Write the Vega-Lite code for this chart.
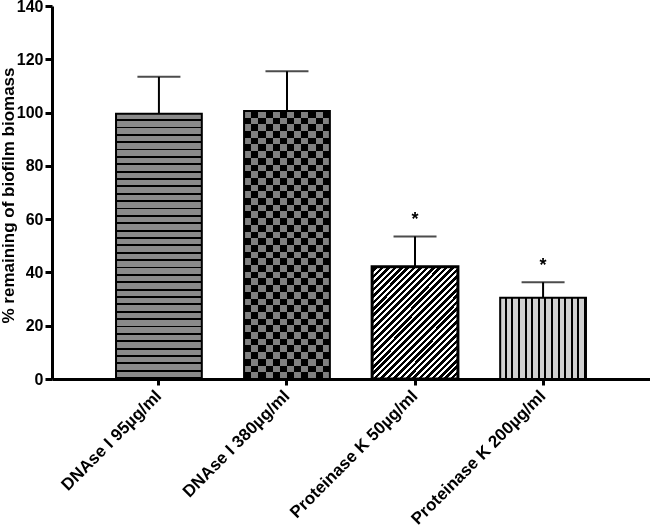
{
  "$schema": "https://vega.github.io/schema/vega-lite/v6.json",
  "width": 598,
  "height": 373,
  "autosize": {"type": "none"},
  "padding": {"left": 52, "top": 6, "right": 0, "bottom": 147},
  "background": "white",
  "config": {
    "view": {"stroke": null},
    "font": "Liberation Sans",
    "axis": {"domainColor": "black", "tickColor": "black", "labelColor": "black", "titleColor": "black", "labelFont": "Liberation Sans", "titleFont": "Liberation Sans"}
  },
  "data": {
    "values": [
      {"treatment": "DNAse I 95µg/ml", "mean": 99.6, "upper": 113.4, "sig": ""},
      {"treatment": "DNAse I 380µg/ml", "mean": 100.6, "upper": 115.5, "sig": ""},
      {"treatment": "Proteinase K 50µg/ml", "mean": 42.1, "upper": 53.5, "sig": "*"},
      {"treatment": "Proteinase K 200µg/ml", "mean": 30.5, "upper": 36.3, "sig": "*"}
    ]
  },
  "encoding": {
    "x": {
      "field": "treatment", "type": "nominal",
      "scale": {"domain": ["DNAse I 95µg/ml", "DNAse I 380µg/ml", "Proteinase K 50µg/ml", "Proteinase K 200µg/ml"], "paddingInner": 0.33, "paddingOuter": 0.5},
      "axis": {"title": null, "labelAngle": -45, "labelAlign": "right", "labelBaseline": "middle", "labelFontSize": 17, "labelFontWeight": "bold", "tickSize": 6, "tickWidth": 3, "domainWidth": 3, "labelPadding": 8, "labelLimit": 400, "labelOverlap": false}
    },
    "y": {
      "field": "mean", "type": "quantitative",
      "scale": {"domain": [0, 140], "nice": false, "zero": true},
      "axis": {"values": [0, 20, 40, 60, 80, 100, 120, 140], "grid": false, "labelFontSize": 16, "labelFontWeight": "bold", "tickSize": 7, "tickWidth": 3, "domainWidth": 3, "labelPadding": 2, "title": "% remaining of biofilm biomass", "titleFontSize": 17, "titleFontWeight": "bold", "titleAngle": -90, "titleAlign": "center", "titleBaseline": "alphabetic", "titleX": -39, "titleY": 189}
    }
  },
  "layer": [
    {
      "mark": {"type": "rule", "color": "black", "strokeWidth": 2},
      "encoding": {"y": {"field": "mean", "type": "quantitative"}, "y2": {"field": "upper"}}
    },
    {
      "mark": {"type": "tick", "color": "black", "size": 43, "thickness": 2},
      "encoding": {"y": {"field": "upper", "type": "quantitative"}}
    },
    {
      "transform": [{"filter": "datum.treatment === 'DNAse I 95µg/ml'"}],
      "mark": {"type": "bar", "fill": {"gradient": "linear", "x1": 0, "y1": 0, "x2": 0, "y2": 1, "stops": [
        {"offset": 0, "color": "#8a8a8a"}, {"offset": 0.0208, "color": "#8a8a8a"}, {"offset": 0.0208, "color": "#000"}, {"offset": 0.0278, "color": "#000"},
        {"offset": 0.0278, "color": "#8a8a8a"}, {"offset": 0.0486, "color": "#8a8a8a"}, {"offset": 0.0486, "color": "#000"}, {"offset": 0.0556, "color": "#000"},
        {"offset": 0.0556, "color": "#8a8a8a"}, {"offset": 0.0764, "color": "#8a8a8a"}, {"offset": 0.0764, "color": "#000"}, {"offset": 0.0833, "color": "#000"},
        {"offset": 0.0833, "color": "#8a8a8a"}, {"offset": 0.1042, "color": "#8a8a8a"}, {"offset": 0.1042, "color": "#000"}, {"offset": 0.1111, "color": "#000"},
        {"offset": 0.1111, "color": "#8a8a8a"}, {"offset": 0.1319, "color": "#8a8a8a"}, {"offset": 0.1319, "color": "#000"}, {"offset": 0.1389, "color": "#000"},
        {"offset": 0.1389, "color": "#8a8a8a"}, {"offset": 0.1597, "color": "#8a8a8a"}, {"offset": 0.1597, "color": "#000"}, {"offset": 0.1667, "color": "#000"},
        {"offset": 0.1667, "color": "#8a8a8a"}, {"offset": 0.1875, "color": "#8a8a8a"}, {"offset": 0.1875, "color": "#000"}, {"offset": 0.1944, "color": "#000"},
        {"offset": 0.1944, "color": "#8a8a8a"}, {"offset": 0.2153, "color": "#8a8a8a"}, {"offset": 0.2153, "color": "#000"}, {"offset": 0.2222, "color": "#000"},
        {"offset": 0.2222, "color": "#8a8a8a"}, {"offset": 0.2431, "color": "#8a8a8a"}, {"offset": 0.2431, "color": "#000"}, {"offset": 0.25, "color": "#000"},
        {"offset": 0.25, "color": "#8a8a8a"}, {"offset": 0.2708, "color": "#8a8a8a"}, {"offset": 0.2708, "color": "#000"}, {"offset": 0.2778, "color": "#000"},
        {"offset": 0.2778, "color": "#8a8a8a"}, {"offset": 0.2986, "color": "#8a8a8a"}, {"offset": 0.2986, "color": "#000"}, {"offset": 0.3056, "color": "#000"},
        {"offset": 0.3056, "color": "#8a8a8a"}, {"offset": 0.3264, "color": "#8a8a8a"}, {"offset": 0.3264, "color": "#000"}, {"offset": 0.3333, "color": "#000"},
        {"offset": 0.3333, "color": "#8a8a8a"}, {"offset": 0.3542, "color": "#8a8a8a"}, {"offset": 0.3542, "color": "#000"}, {"offset": 0.3611, "color": "#000"},
        {"offset": 0.3611, "color": "#8a8a8a"}, {"offset": 0.3819, "color": "#8a8a8a"}, {"offset": 0.3819, "color": "#000"}, {"offset": 0.3889, "color": "#000"},
        {"offset": 0.3889, "color": "#8a8a8a"}, {"offset": 0.4097, "color": "#8a8a8a"}, {"offset": 0.4097, "color": "#000"}, {"offset": 0.4167, "color": "#000"},
        {"offset": 0.4167, "color": "#8a8a8a"}, {"offset": 0.4375, "color": "#8a8a8a"}, {"offset": 0.4375, "color": "#000"}, {"offset": 0.4444, "color": "#000"},
        {"offset": 0.4444, "color": "#8a8a8a"}, {"offset": 0.4653, "color": "#8a8a8a"}, {"offset": 0.4653, "color": "#000"}, {"offset": 0.4722, "color": "#000"},
        {"offset": 0.4722, "color": "#8a8a8a"}, {"offset": 0.4931, "color": "#8a8a8a"}, {"offset": 0.4931, "color": "#000"}, {"offset": 0.5, "color": "#000"},
        {"offset": 0.5, "color": "#8a8a8a"}, {"offset": 0.5208, "color": "#8a8a8a"}, {"offset": 0.5208, "color": "#000"}, {"offset": 0.5278, "color": "#000"},
        {"offset": 0.5278, "color": "#8a8a8a"}, {"offset": 0.5486, "color": "#8a8a8a"}, {"offset": 0.5486, "color": "#000"}, {"offset": 0.5556, "color": "#000"},
        {"offset": 0.5556, "color": "#8a8a8a"}, {"offset": 0.5764, "color": "#8a8a8a"}, {"offset": 0.5764, "color": "#000"}, {"offset": 0.5833, "color": "#000"},
        {"offset": 0.5833, "color": "#8a8a8a"}, {"offset": 0.6042, "color": "#8a8a8a"}, {"offset": 0.6042, "color": "#000"}, {"offset": 0.6111, "color": "#000"},
        {"offset": 0.6111, "color": "#8a8a8a"}, {"offset": 0.6319, "color": "#8a8a8a"}, {"offset": 0.6319, "color": "#000"}, {"offset": 0.6389, "color": "#000"},
        {"offset": 0.6389, "color": "#8a8a8a"}, {"offset": 0.6597, "color": "#8a8a8a"}, {"offset": 0.6597, "color": "#000"}, {"offset": 0.6667, "color": "#000"},
        {"offset": 0.6667, "color": "#8a8a8a"}, {"offset": 0.6875, "color": "#8a8a8a"}, {"offset": 0.6875, "color": "#000"}, {"offset": 0.6944, "color": "#000"},
        {"offset": 0.6944, "color": "#8a8a8a"}, {"offset": 0.7153, "color": "#8a8a8a"}, {"offset": 0.7153, "color": "#000"}, {"offset": 0.7222, "color": "#000"},
        {"offset": 0.7222, "color": "#8a8a8a"}, {"offset": 0.7431, "color": "#8a8a8a"}, {"offset": 0.7431, "color": "#000"}, {"offset": 0.75, "color": "#000"},
        {"offset": 0.75, "color": "#8a8a8a"}, {"offset": 0.7708, "color": "#8a8a8a"}, {"offset": 0.7708, "color": "#000"}, {"offset": 0.7778, "color": "#000"},
        {"offset": 0.7778, "color": "#8a8a8a"}, {"offset": 0.7986, "color": "#8a8a8a"}, {"offset": 0.7986, "color": "#000"}, {"offset": 0.8056, "color": "#000"},
        {"offset": 0.8056, "color": "#8a8a8a"}, {"offset": 0.8264, "color": "#8a8a8a"}, {"offset": 0.8264, "color": "#000"}, {"offset": 0.8333, "color": "#000"},
        {"offset": 0.8333, "color": "#8a8a8a"}, {"offset": 0.8542, "color": "#8a8a8a"}, {"offset": 0.8542, "color": "#000"}, {"offset": 0.8611, "color": "#000"},
        {"offset": 0.8611, "color": "#8a8a8a"}, {"offset": 0.8819, "color": "#8a8a8a"}, {"offset": 0.8819, "color": "#000"}, {"offset": 0.8889, "color": "#000"},
        {"offset": 0.8889, "color": "#8a8a8a"}, {"offset": 0.9097, "color": "#8a8a8a"}, {"offset": 0.9097, "color": "#000"}, {"offset": 0.9167, "color": "#000"},
        {"offset": 0.9167, "color": "#8a8a8a"}, {"offset": 0.9375, "color": "#8a8a8a"}, {"offset": 0.9375, "color": "#000"}, {"offset": 0.9444, "color": "#000"},
        {"offset": 0.9444, "color": "#8a8a8a"}, {"offset": 0.9653, "color": "#8a8a8a"}, {"offset": 0.9653, "color": "#000"}, {"offset": 0.9722, "color": "#000"},
        {"offset": 0.9722, "color": "#8a8a8a"}, {"offset": 0.9931, "color": "#8a8a8a"}, {"offset": 0.9931, "color": "#000"}, {"offset": 1, "color": "#000"}
      ]}}
    },
    {
      "transform": [{"filter": "datum.treatment === 'DNAse I 380µg/ml'"}],
      "mark": {"type": "bar", "fill": {"gradient": "linear", "x1": 0, "y1": 0, "x2": 1, "y2": 0, "stops": [
        {"offset": 0, "color": "#808080"}, {"offset": 0.0833, "color": "#808080"}, {"offset": 0.0833, "color": "#000"}, {"offset": 0.1667, "color": "#000"},
        {"offset": 0.1667, "color": "#808080"}, {"offset": 0.25, "color": "#808080"}, {"offset": 0.25, "color": "#000"}, {"offset": 0.3333, "color": "#000"},
        {"offset": 0.3333, "color": "#808080"}, {"offset": 0.4167, "color": "#808080"}, {"offset": 0.4167, "color": "#000"}, {"offset": 0.5, "color": "#000"},
        {"offset": 0.5, "color": "#808080"}, {"offset": 0.5833, "color": "#808080"}, {"offset": 0.5833, "color": "#000"}, {"offset": 0.6667, "color": "#000"},
        {"offset": 0.6667, "color": "#808080"}, {"offset": 0.75, "color": "#808080"}, {"offset": 0.75, "color": "#000"}, {"offset": 0.8333, "color": "#000"},
        {"offset": 0.8333, "color": "#808080"}, {"offset": 0.9167, "color": "#808080"}, {"offset": 0.9167, "color": "#000"}, {"offset": 1, "color": "#000"}
      ]}}
    },
    {
      "transform": [{"filter": "datum.treatment === 'DNAse I 380µg/ml'"}],
      "mark": {"type": "bar", "blend": "difference", "fill": {"gradient": "linear", "x1": 0, "y1": 0, "x2": 0, "y2": 1, "stops": [
        {"offset": 0, "color": "#000"}, {"offset": 0.025, "color": "#000"}, {"offset": 0.025, "color": "#808080"}, {"offset": 0.05, "color": "#808080"},
        {"offset": 0.05, "color": "#000"}, {"offset": 0.075, "color": "#000"}, {"offset": 0.075, "color": "#808080"}, {"offset": 0.1, "color": "#808080"},
        {"offset": 0.1, "color": "#000"}, {"offset": 0.125, "color": "#000"}, {"offset": 0.125, "color": "#808080"}, {"offset": 0.15, "color": "#808080"},
        {"offset": 0.15, "color": "#000"}, {"offset": 0.175, "color": "#000"}, {"offset": 0.175, "color": "#808080"}, {"offset": 0.2, "color": "#808080"},
        {"offset": 0.2, "color": "#000"}, {"offset": 0.225, "color": "#000"}, {"offset": 0.225, "color": "#808080"}, {"offset": 0.25, "color": "#808080"},
        {"offset": 0.25, "color": "#000"}, {"offset": 0.275, "color": "#000"}, {"offset": 0.275, "color": "#808080"}, {"offset": 0.3, "color": "#808080"},
        {"offset": 0.3, "color": "#000"}, {"offset": 0.325, "color": "#000"}, {"offset": 0.325, "color": "#808080"}, {"offset": 0.35, "color": "#808080"},
        {"offset": 0.35, "color": "#000"}, {"offset": 0.375, "color": "#000"}, {"offset": 0.375, "color": "#808080"}, {"offset": 0.4, "color": "#808080"},
        {"offset": 0.4, "color": "#000"}, {"offset": 0.425, "color": "#000"}, {"offset": 0.425, "color": "#808080"}, {"offset": 0.45, "color": "#808080"},
        {"offset": 0.45, "color": "#000"}, {"offset": 0.475, "color": "#000"}, {"offset": 0.475, "color": "#808080"}, {"offset": 0.5, "color": "#808080"},
        {"offset": 0.5, "color": "#000"}, {"offset": 0.525, "color": "#000"}, {"offset": 0.525, "color": "#808080"}, {"offset": 0.55, "color": "#808080"},
        {"offset": 0.55, "color": "#000"}, {"offset": 0.575, "color": "#000"}, {"offset": 0.575, "color": "#808080"}, {"offset": 0.6, "color": "#808080"},
        {"offset": 0.6, "color": "#000"}, {"offset": 0.625, "color": "#000"}, {"offset": 0.625, "color": "#808080"}, {"offset": 0.65, "color": "#808080"},
        {"offset": 0.65, "color": "#000"}, {"offset": 0.675, "color": "#000"}, {"offset": 0.675, "color": "#808080"}, {"offset": 0.7, "color": "#808080"},
        {"offset": 0.7, "color": "#000"}, {"offset": 0.725, "color": "#000"}, {"offset": 0.725, "color": "#808080"}, {"offset": 0.75, "color": "#808080"},
        {"offset": 0.75, "color": "#000"}, {"offset": 0.775, "color": "#000"}, {"offset": 0.775, "color": "#808080"}, {"offset": 0.8, "color": "#808080"},
        {"offset": 0.8, "color": "#000"}, {"offset": 0.825, "color": "#000"}, {"offset": 0.825, "color": "#808080"}, {"offset": 0.85, "color": "#808080"},
        {"offset": 0.85, "color": "#000"}, {"offset": 0.875, "color": "#000"}, {"offset": 0.875, "color": "#808080"}, {"offset": 0.9, "color": "#808080"},
        {"offset": 0.9, "color": "#000"}, {"offset": 0.925, "color": "#000"}, {"offset": 0.925, "color": "#808080"}, {"offset": 0.95, "color": "#808080"},
        {"offset": 0.95, "color": "#000"}, {"offset": 0.975, "color": "#000"}, {"offset": 0.975, "color": "#808080"}, {"offset": 1, "color": "#808080"}
      ]}}
    },
    {
      "transform": [{"filter": "datum.treatment === 'Proteinase K 50µg/ml'"}],
      "mark": {"type": "bar", "fill": {"gradient": "linear", "x1": 0, "y1": 0, "x2": 1, "y2": 1.3, "stops": [
        {"offset": 0, "color": "#fff"}, {"offset": 0.0125, "color": "#fff"}, {"offset": 0.0125, "color": "#000"}, {"offset": 0.0278, "color": "#000"},
        {"offset": 0.0278, "color": "#fff"}, {"offset": 0.0403, "color": "#fff"}, {"offset": 0.0403, "color": "#000"}, {"offset": 0.0556, "color": "#000"},
        {"offset": 0.0556, "color": "#fff"}, {"offset": 0.0681, "color": "#fff"}, {"offset": 0.0681, "color": "#000"}, {"offset": 0.0833, "color": "#000"},
        {"offset": 0.0833, "color": "#fff"}, {"offset": 0.0958, "color": "#fff"}, {"offset": 0.0958, "color": "#000"}, {"offset": 0.1111, "color": "#000"},
        {"offset": 0.1111, "color": "#fff"}, {"offset": 0.1236, "color": "#fff"}, {"offset": 0.1236, "color": "#000"}, {"offset": 0.1389, "color": "#000"},
        {"offset": 0.1389, "color": "#fff"}, {"offset": 0.1514, "color": "#fff"}, {"offset": 0.1514, "color": "#000"}, {"offset": 0.1667, "color": "#000"},
        {"offset": 0.1667, "color": "#fff"}, {"offset": 0.1792, "color": "#fff"}, {"offset": 0.1792, "color": "#000"}, {"offset": 0.1944, "color": "#000"},
        {"offset": 0.1944, "color": "#fff"}, {"offset": 0.2069, "color": "#fff"}, {"offset": 0.2069, "color": "#000"}, {"offset": 0.2222, "color": "#000"},
        {"offset": 0.2222, "color": "#fff"}, {"offset": 0.2347, "color": "#fff"}, {"offset": 0.2347, "color": "#000"}, {"offset": 0.25, "color": "#000"},
        {"offset": 0.25, "color": "#fff"}, {"offset": 0.2625, "color": "#fff"}, {"offset": 0.2625, "color": "#000"}, {"offset": 0.2778, "color": "#000"},
        {"offset": 0.2778, "color": "#fff"}, {"offset": 0.2903, "color": "#fff"}, {"offset": 0.2903, "color": "#000"}, {"offset": 0.3056, "color": "#000"},
        {"offset": 0.3056, "color": "#fff"}, {"offset": 0.3181, "color": "#fff"}, {"offset": 0.3181, "color": "#000"}, {"offset": 0.3333, "color": "#000"},
        {"offset": 0.3333, "color": "#fff"}, {"offset": 0.3458, "color": "#fff"}, {"offset": 0.3458, "color": "#000"}, {"offset": 0.3611, "color": "#000"},
        {"offset": 0.3611, "color": "#fff"}, {"offset": 0.3736, "color": "#fff"}, {"offset": 0.3736, "color": "#000"}, {"offset": 0.3889, "color": "#000"},
        {"offset": 0.3889, "color": "#fff"}, {"offset": 0.4014, "color": "#fff"}, {"offset": 0.4014, "color": "#000"}, {"offset": 0.4167, "color": "#000"},
        {"offset": 0.4167, "color": "#fff"}, {"offset": 0.4292, "color": "#fff"}, {"offset": 0.4292, "color": "#000"}, {"offset": 0.4444, "color": "#000"},
        {"offset": 0.4444, "color": "#fff"}, {"offset": 0.4569, "color": "#fff"}, {"offset": 0.4569, "color": "#000"}, {"offset": 0.4722, "color": "#000"},
        {"offset": 0.4722, "color": "#fff"}, {"offset": 0.4847, "color": "#fff"}, {"offset": 0.4847, "color": "#000"}, {"offset": 0.5, "color": "#000"},
        {"offset": 0.5, "color": "#fff"}, {"offset": 0.5125, "color": "#fff"}, {"offset": 0.5125, "color": "#000"}, {"offset": 0.5278, "color": "#000"},
        {"offset": 0.5278, "color": "#fff"}, {"offset": 0.5403, "color": "#fff"}, {"offset": 0.5403, "color": "#000"}, {"offset": 0.5556, "color": "#000"},
        {"offset": 0.5556, "color": "#fff"}, {"offset": 0.5681, "color": "#fff"}, {"offset": 0.5681, "color": "#000"}, {"offset": 0.5833, "color": "#000"},
        {"offset": 0.5833, "color": "#fff"}, {"offset": 0.5958, "color": "#fff"}, {"offset": 0.5958, "color": "#000"}, {"offset": 0.6111, "color": "#000"},
        {"offset": 0.6111, "color": "#fff"}, {"offset": 0.6236, "color": "#fff"}, {"offset": 0.6236, "color": "#000"}, {"offset": 0.6389, "color": "#000"},
        {"offset": 0.6389, "color": "#fff"}, {"offset": 0.6514, "color": "#fff"}, {"offset": 0.6514, "color": "#000"}, {"offset": 0.6667, "color": "#000"},
        {"offset": 0.6667, "color": "#fff"}, {"offset": 0.6792, "color": "#fff"}, {"offset": 0.6792, "color": "#000"}, {"offset": 0.6944, "color": "#000"},
        {"offset": 0.6944, "color": "#fff"}, {"offset": 0.7069, "color": "#fff"}, {"offset": 0.7069, "color": "#000"}, {"offset": 0.7222, "color": "#000"},
        {"offset": 0.7222, "color": "#fff"}, {"offset": 0.7347, "color": "#fff"}, {"offset": 0.7347, "color": "#000"}, {"offset": 0.75, "color": "#000"},
        {"offset": 0.75, "color": "#fff"}, {"offset": 0.7625, "color": "#fff"}, {"offset": 0.7625, "color": "#000"}, {"offset": 0.7778, "color": "#000"},
        {"offset": 0.7778, "color": "#fff"}, {"offset": 0.7903, "color": "#fff"}, {"offset": 0.7903, "color": "#000"}, {"offset": 0.8056, "color": "#000"},
        {"offset": 0.8056, "color": "#fff"}, {"offset": 0.8181, "color": "#fff"}, {"offset": 0.8181, "color": "#000"}, {"offset": 0.8333, "color": "#000"},
        {"offset": 0.8333, "color": "#fff"}, {"offset": 0.8458, "color": "#fff"}, {"offset": 0.8458, "color": "#000"}, {"offset": 0.8611, "color": "#000"},
        {"offset": 0.8611, "color": "#fff"}, {"offset": 0.8736, "color": "#fff"}, {"offset": 0.8736, "color": "#000"}, {"offset": 0.8889, "color": "#000"}
      ]}}
    },
    {
      "transform": [{"filter": "datum.treatment === 'Proteinase K 200µg/ml'"}],
      "mark": {"type": "bar", "fill": {"gradient": "linear", "x1": 0, "y1": 0, "x2": 1, "y2": 0, "stops": [
        {"offset": 0, "color": "#d0d0d0"}, {"offset": 0.0538, "color": "#d0d0d0"}, {"offset": 0.0538, "color": "#000"}, {"offset": 0.0769, "color": "#000"},
        {"offset": 0.0769, "color": "#d0d0d0"}, {"offset": 0.1308, "color": "#d0d0d0"}, {"offset": 0.1308, "color": "#000"}, {"offset": 0.1538, "color": "#000"},
        {"offset": 0.1538, "color": "#d0d0d0"}, {"offset": 0.2077, "color": "#d0d0d0"}, {"offset": 0.2077, "color": "#000"}, {"offset": 0.2308, "color": "#000"},
        {"offset": 0.2308, "color": "#d0d0d0"}, {"offset": 0.2846, "color": "#d0d0d0"}, {"offset": 0.2846, "color": "#000"}, {"offset": 0.3077, "color": "#000"},
        {"offset": 0.3077, "color": "#d0d0d0"}, {"offset": 0.3615, "color": "#d0d0d0"}, {"offset": 0.3615, "color": "#000"}, {"offset": 0.3846, "color": "#000"},
        {"offset": 0.3846, "color": "#d0d0d0"}, {"offset": 0.4385, "color": "#d0d0d0"}, {"offset": 0.4385, "color": "#000"}, {"offset": 0.4615, "color": "#000"},
        {"offset": 0.4615, "color": "#d0d0d0"}, {"offset": 0.5154, "color": "#d0d0d0"}, {"offset": 0.5154, "color": "#000"}, {"offset": 0.5385, "color": "#000"},
        {"offset": 0.5385, "color": "#d0d0d0"}, {"offset": 0.5923, "color": "#d0d0d0"}, {"offset": 0.5923, "color": "#000"}, {"offset": 0.6154, "color": "#000"},
        {"offset": 0.6154, "color": "#d0d0d0"}, {"offset": 0.6692, "color": "#d0d0d0"}, {"offset": 0.6692, "color": "#000"}, {"offset": 0.6923, "color": "#000"},
        {"offset": 0.6923, "color": "#d0d0d0"}, {"offset": 0.7462, "color": "#d0d0d0"}, {"offset": 0.7462, "color": "#000"}, {"offset": 0.7692, "color": "#000"},
        {"offset": 0.7692, "color": "#d0d0d0"}, {"offset": 0.8231, "color": "#d0d0d0"}, {"offset": 0.8231, "color": "#000"}, {"offset": 0.8462, "color": "#000"},
        {"offset": 0.8462, "color": "#d0d0d0"}, {"offset": 0.9, "color": "#d0d0d0"}, {"offset": 0.9, "color": "#000"}, {"offset": 0.9231, "color": "#000"},
        {"offset": 0.9231, "color": "#d0d0d0"}, {"offset": 0.9769, "color": "#d0d0d0"}, {"offset": 0.9769, "color": "#000"}, {"offset": 1, "color": "#000"}
      ]}}
    },
    {
      "mark": {"type": "bar", "filled": false, "stroke": "black"},
      "encoding": {
        "strokeWidth": {"condition": {"test": "datum.treatment === 'Proteinase K 50µg/ml'", "value": 3}, "value": 2}
      }
    },
    {
      "mark": {"type": "text", "fontSize": 18, "fontWeight": "bold", "baseline": "alphabetic", "align": "center", "dy": -11, "color": "black"},
      "encoding": {"y": {"field": "upper", "type": "quantitative"}, "text": {"field": "sig"}}
    }
  ]
}
